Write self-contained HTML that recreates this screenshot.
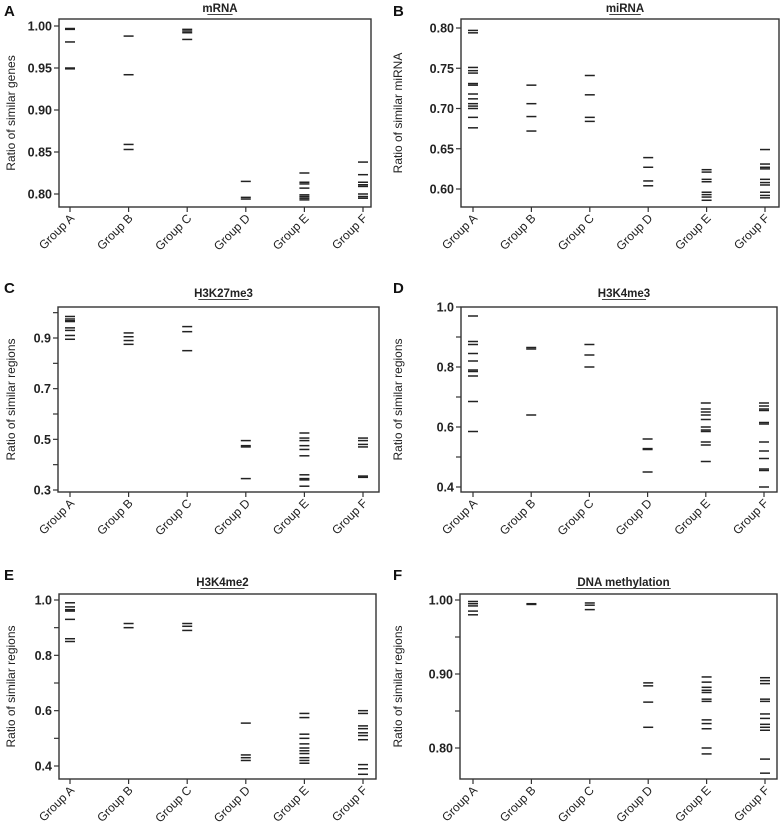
<!DOCTYPE html>
<html><head><meta charset="utf-8">
<style>
html,body{margin:0;padding:0;background:#fff;}
svg{display:block;font-family:"Liberation Sans",Arial,sans-serif;}
</style></head>
<body>
<svg id="fig" width="781" height="830" viewBox="0 0 781 830"></svg>
<script>
const groups = ["Group A","Group B","Group C","Group D","Group E","Group F"];
const mrnaValues = [
 [0.997,0.996,0.981,0.950,0.949],
 [0.988,0.942,0.859,0.853],
 [0.996,0.994,0.992,0.984],
 [0.815,0.796,0.794],
 [0.825,0.814,0.812,0.807,0.799,0.797,0.795,0.793],
 [0.838,0.823,0.814,0.811,0.809,0.800,0.797,0.795]
];
const mirnaValues = [
 [0.797,0.794,0.751,0.747,0.744,0.731,0.729,0.718,0.712,0.706,0.703,0.700,0.689,0.676],
 [0.729,0.706,0.690,0.672],
 [0.741,0.717,0.689,0.684],
 [0.639,0.627,0.610,0.604],
 [0.624,0.621,0.612,0.609,0.596,0.593,0.590,0.586],
 [0.649,0.631,0.627,0.625,0.612,0.608,0.605,0.596,0.592,0.589]
];
const h3k27Values = [
 [0.985,0.975,0.968,0.965,0.94,0.93,0.91,0.895],
 [0.92,0.905,0.89,0.875],
 [0.945,0.925,0.85],
 [0.495,0.475,0.47,0.345],
 [0.525,0.505,0.495,0.475,0.46,0.435,0.36,0.345,0.34,0.315],
 [0.505,0.495,0.48,0.47,0.355,0.35]
];
const h3k4me3Values = [
 [0.97,0.885,0.875,0.845,0.82,0.79,0.785,0.77,0.685,0.585],
 [0.865,0.86,0.64],
 [0.875,0.84,0.8],
 [0.56,0.528,0.525,0.45],
 [0.68,0.66,0.65,0.64,0.625,0.60,0.59,0.585,0.55,0.54,0.485],
 [0.68,0.67,0.66,0.655,0.615,0.61,0.55,0.52,0.495,0.46,0.455,0.40]
];
const h3k4me2Values = [
 [0.99,0.975,0.965,0.96,0.93,0.86,0.85],
 [0.915,0.9],
 [0.915,0.905,0.89],
 [0.555,0.44,0.43,0.42],
 [0.59,0.575,0.515,0.5,0.48,0.465,0.455,0.445,0.43,0.42,0.41],
 [0.6,0.59,0.545,0.535,0.52,0.51,0.495,0.405,0.39,0.37]
];
const dnaValues = [
 [0.998,0.995,0.992,0.985,0.98],
 [0.995,0.994],
 [0.996,0.993,0.987],
 [0.888,0.884,0.862,0.828],
 [0.896,0.889,0.882,0.878,0.875,0.866,0.863,0.838,0.833,0.826,0.80,0.792],
 [0.895,0.891,0.887,0.866,0.863,0.846,0.84,0.832,0.828,0.824,0.785,0.766]
];
const mrnaTicks = ["1.00","0.95","0.90","0.85","0.80"];
const mirnaTicks = ["0.80","0.75","0.70","0.65","0.60"];
const h3k27Ticks = ["0.9","0.7","0.5","0.3"];
const h3k27Minor = [1.0,0.8,0.6,0.4];
const h3k4me3Ticks = ["1.0","0.8","0.6","0.4"];
const h3k4me3Minor = [0.9,0.7,0.5];
const h3k4me2Ticks = ["1.0","0.8","0.6","0.4"];
const h3k4me2Minor = [0.9,0.7,0.5];
const dnaTicks = ["1.00","0.90","0.80"];
const dnaMinor = [0.95,0.85];

const NS="http://www.w3.org/2000/svg";
const svg=document.getElementById('fig');
function mk(tag,attrs,parent){const e=document.createElementNS(NS,tag);for(const k in attrs)e.setAttribute(k,attrs[k]);(parent||svg).appendChild(e);return e;}

function panel(p){
  const g=mk('g',{});
  
  
  const y=v=>p.y0px+(v-p.v0)*(p.y1px-p.y0px)/(p.v1-p.v0);
  const x=i=>p.gx0+i*(p.gx1-p.gx0)/(groups.length-1);
  const lt=mk('text',{x:p.letterX,y:p.letterY,'font-size':15,'font-weight':'bold',fill:'#111'},g);
  lt.textContent=p.letter;
  
  
  const cx=(p.L+p.R)/2+5;
  const t=mk('text',{x:cx,y:p.titleY,'font-size':11.5,'font-weight':'bold','text-anchor':'middle',fill:'#222'},g);
  t.textContent=p.title;
  
  
  const w=p.title.length*6.3;
  mk('line',{x1:cx-w/2,x2:cx+w/2,y1:p.titleY+2.5,y2:p.titleY+2.5,stroke:'#444','stroke-width':1},g);
  const box=mk('rect',{x:p.L,y:p.T,width:p.R-p.L,height:p.B-p.T,fill:'none',stroke:'#333','stroke-width':1.4},g);
  
  
  p.ticks.forEach(s=>{
    const v=parseFloat(s),yy=y(v);
    mk('line',{x1:p.L-5,x2:p.L,y1:yy,y2:yy,stroke:'#333','stroke-width':1.2},g);
    const tl=mk('text',{x:p.L-7,y:yy+4.5,'font-size':12.5,'font-weight':'bold','text-anchor':'end',fill:'#222'},g);
    tl.textContent=s;
    
    
  });
  (p.minor||[]).forEach(v=>{const yy=y(v);mk('line',{x1:p.L-5,x2:p.L,y1:yy,y2:yy,stroke:'#333','stroke-width':1.2},g);});
  const yl=mk('text',{x:0,y:0,'font-size':12,'text-anchor':'middle',fill:'#222',transform:`translate(${p.ylabX},${(p.T+p.B)/2}) rotate(-90)`},g);
  yl.textContent=p.ylab;
  
  
  groups.forEach((gn,i)=>{
    const xx=x(i);
    mk('line',{x1:xx,x2:xx,y1:p.B,y2:p.B+5,stroke:'#333','stroke-width':1.2},g);
    const gl=mk('text',{x:0,y:0,'font-size':12,'text-anchor':'end',fill:'#222',transform:`translate(${xx+5},${p.B+12}) rotate(-45)`},g);
    gl.textContent=gn;
    
    
    p.data[i].forEach(v=>{
      const m=mk('line',{x1:xx-5,x2:xx+5,y1:y(v),y2:y(v),stroke:'#222','stroke-width':1.5},g);
      
      
    });
  });
}
panel({letter:'A',letterX:4,letterY:16,title:'mRNA',titleY:12,L:59,T:19,R:371,B:207,v0:1.0,y0px:26,v1:0.8,y1px:194,gx0:70,gx1:363,ticks:mrnaTicks,ylab:'Ratio of similar genes',ylabX:15,data:mrnaValues});
panel({letter:'B',letterX:393,letterY:16,title:'miRNA',titleY:12,L:461,T:19,R:779,B:207,v0:0.8,y0px:28,v1:0.6,y1px:189,gx0:473,gx1:765,ticks:mirnaTicks,ylab:'Ratio of similar miRNA',ylabX:402,data:mirnaValues});
panel({letter:'C',letterX:4,letterY:293,title:'H3K27me3',titleY:297,L:58,T:307,R:379,B:492,v0:0.9,y0px:338,v1:0.3,y1px:490,gx0:70,gx1:363,ticks:h3k27Ticks,minor:h3k27Minor,ylab:'Ratio of similar regions',ylabX:15,data:h3k27Values});
panel({letter:'D',letterX:393,letterY:293,title:'H3K4me3',titleY:297,L:461,T:307,R:777,B:492,v0:1.0,y0px:307,v1:0.4,y1px:487,gx0:473,gx1:764,ticks:h3k4me3Ticks,minor:h3k4me3Minor,ylab:'Ratio of similar regions',ylabX:402,data:h3k4me3Values});
panel({letter:'E',letterX:4,letterY:580,title:'H3K4me2',titleY:586,L:59,T:594,R:376,B:779,v0:1.0,y0px:600,v1:0.4,y1px:766,gx0:70,gx1:363,ticks:h3k4me2Ticks,minor:h3k4me2Minor,ylab:'Ratio of similar regions',ylabX:15,data:h3k4me2Values});
panel({letter:'F',letterX:393,letterY:580,title:'DNA methylation',titleY:586,L:460,T:594,R:777,B:779,v0:1.0,y0px:600,v1:0.8,y1px:748,gx0:473,gx1:765,ticks:dnaTicks,minor:dnaMinor,ylab:'Ratio of similar regions',ylabX:402,data:dnaValues});
</script>
</body></html>
